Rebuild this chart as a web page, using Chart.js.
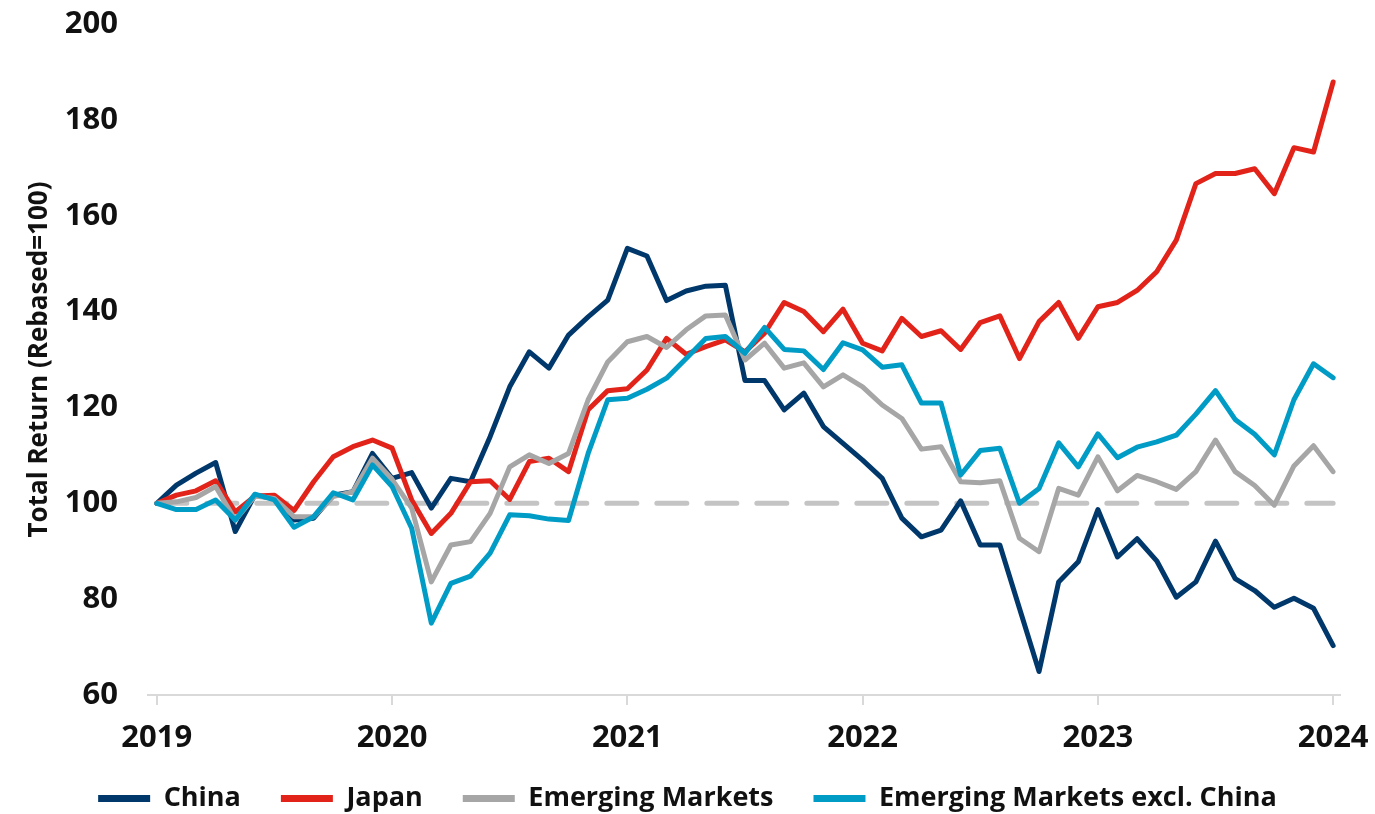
<!DOCTYPE html>
<html>
<head>
<meta charset="utf-8">
<script src="https://cdn.jsdelivr.net/npm/chart.js@4.4.1/dist/chart.umd.min.js"></script>
<style>
  html, body { margin: 0; padding: 0; background: #fff; }
</style>
</head>
<body>
<canvas id="returnChart" width="1375" height="814"></canvas>
<script>
const years = ["2019", "2020", "2021", "2022", "2023", "2024"];
const yTicks = [60, 80, 100, 120, 140, 160, 180, 200];
const baseline = 100;

// monthly total return, Jan 2019 .. Jan 2024, rebased to 100
const china = [100.0, 103.8, 106.3, 108.5, 94.1, 101.7, 101.0, 96.5, 96.9, 101.7,
  102.4, 110.4, 105.2, 106.4, 99.0, 105.2, 104.5, 113.9, 124.3, 131.6,
  128.2, 135.1, 138.9, 142.4, 153.2, 151.6, 142.3, 144.3, 145.3, 145.5,
  125.6, 125.6, 119.5, 123.0, 116.0, 112.5, 109.0, 105.2, 96.9, 93.0,
  94.4, 100.5, 91.3, 91.3, 78.1, 64.9, 83.6, 87.8, 98.7, 88.8,
  92.6, 88.0, 80.4, 83.6, 92.1, 84.3, 81.8, 78.3, 80.2, 78.1, 70.3];
const japan = [100.0, 101.7, 102.6, 104.7, 98.2, 101.5, 101.7, 98.5, 104.5, 109.7,
  111.8, 113.2, 111.5, 100.7, 93.7, 97.9, 104.5, 104.7, 100.8, 108.7,
  109.4, 106.6, 119.5, 123.5, 123.9, 127.8, 134.4, 131.1, 132.7, 134.1,
  131.6, 135.5, 141.9, 140.0, 135.8, 140.5, 133.4, 131.8, 138.6, 134.8,
  136.0, 132.1, 137.7, 139.1, 130.2, 137.9, 141.9, 134.4, 141.0, 141.9,
  144.4, 148.3, 154.9, 166.7, 168.8, 168.8, 169.8, 164.6, 174.2, 173.3, 187.9];
const emergingMarkets = [100.0, 100.3, 101.2, 103.5, 96.5, 101.5, 101.0, 97.2, 97.2, 101.4,
  102.4, 109.4, 105.0, 99.0, 83.6, 91.3, 92.0, 97.9, 107.6, 110.1,
  108.3, 110.4, 121.6, 129.5, 133.7, 134.8, 132.5, 136.2, 139.1, 139.3,
  129.9, 133.4, 128.2, 129.3, 124.3, 126.8, 124.3, 120.5, 117.7, 111.3,
  111.8, 104.5, 104.3, 104.7, 92.7, 89.9, 103.1, 101.7, 109.7, 102.6,
  105.8, 104.5, 102.9, 106.6, 113.2, 106.6, 103.7, 99.6, 107.8, 112.0, 106.6];
const emExChina = [100.0, 98.7, 98.7, 100.7, 96.5, 101.9, 100.7, 95.0, 97.2, 102.2,
  100.7, 108.0, 103.5, 94.8, 75.0, 83.3, 84.8, 89.6, 97.6, 97.4,
  96.7, 96.4, 110.4, 121.6, 121.9, 123.8, 126.1, 130.2, 134.4, 134.8,
  131.3, 136.7, 132.1, 131.8, 127.9, 133.5, 132.0, 128.4, 128.9, 120.9,
  120.9, 105.9, 111.0, 111.5, 100.0, 103.1, 112.6, 107.6, 114.5, 109.5,
  111.7, 112.8, 114.2, 118.6, 123.5, 117.5, 114.4, 110.1, 121.6, 129.1, 126.2];

const FONT = "'Open Sans', sans-serif";

function toPoints(values) {
  return values.map((v, i) => ({ x: i, y: v }));
}

function lineSet(label, values, color, order) {
  return {
    label: label,
    data: toPoints(values),
    borderColor: color,
    backgroundColor: color,
    borderWidth: 5,
    pointRadius: 0,
    tension: 0,
    borderCapStyle: "round",
    borderJoinStyle: "round",
    order: order
  };
}

// legend: keep the wide item spacing but sit it closer to the axis labels
const legendPlace = {
  id: "legendPlace",
  beforeInit(chart) {
    const fit = chart.legend.fit;
    chart.legend.fit = function () {
      fit.call(this);
      this.height = 57;
    };
  },
  afterLayout(chart) {
    chart.legend.top -= 12;
  }
};

const canvas = document.getElementById("returnChart");

new Chart(canvas, {
  type: "line",
  data: {
    datasets: [
      lineSet("China", china, "#00386b", 4),
      lineSet("Japan", japan, "#e2231a", 3),
      lineSet("Emerging Markets", emergingMarkets, "#a6a6a6", 2),
      lineSet("Emerging Markets excl. China", emExChina, "#009cc6", 1),
      {
        label: "",
        data: toPoints(china.map(() => baseline)),
        borderColor: "#c4c4c4",
        borderWidth: 5,
        borderDash: [30, 20],
        borderCapStyle: "round",
        pointRadius: 0,
        order: 5
      }
    ]
  },
  options: {
    responsive: false,
    devicePixelRatio: 1,
    animation: false,
    layout: { padding: 0 },
    plugins: {
      tooltip: { enabled: false },
      legend: {
        position: "bottom",
        labels: {
          color: "#111",
          font: { family: FONT, size: 27, weight: "700" },
          boxWidth: 52,
          boxHeight: 7,
          padding: 40,
          generateLabels(chart) {
            return Chart.defaults.plugins.legend.labels.generateLabels(chart)
              .filter(item => item.text !== "")
              .sort((a, b) => a.datasetIndex - b.datasetIndex)
              .map(item => ({ ...item, lineWidth: 0, lineDash: [], fillStyle: item.strokeStyle }));
          }
        }
      }
    },
    scales: {
      x: {
        type: "linear",
        min: -0.45,
        max: 60.35,
        afterBuildTicks(scale) {
          scale.ticks = years.map((y, i) => ({ value: i * 12 }));
        },
        afterFit(scale) {
          scale.height = 62;
          scale.paddingLeft = 0;
          scale.paddingRight = 35;
        },
        ticks: {
          color: "#111",
          font: { family: FONT, size: 31, weight: "700" },
          padding: 15,
          maxRotation: 0,
          callback: (value) => years[value / 12]
        },
        grid: { drawOnChartArea: false, drawTicks: true, tickLength: 10, color: "#d9d9d9", lineWidth: 2 },
        border: { display: true, color: "#d9d9d9", width: 2 }
      },
      y: {
        min: 60,
        max: 200,
        afterBuildTicks(scale) {
          scale.ticks = yTicks.map(v => ({ value: v }));
        },
        afterFit(scale) {
          scale.width = 148;
          scale.paddingTop = 24;
          scale.paddingBottom = 0;
        },
        ticks: {
          color: "#111",
          font: { family: FONT, size: 31, weight: "700" },
          padding: 30
        },
        grid: { display: false, drawTicks: false },
        border: { display: false },
        title: {
          display: true,
          text: "Total Return (Rebased=100)",
          color: "#111",
          font: { family: FONT, size: 26, weight: "700" },
          padding: { top: 24, bottom: 0 }
        }
      }
    }
  },
  plugins: [legendPlace]
});
</script>
</body>
</html>
